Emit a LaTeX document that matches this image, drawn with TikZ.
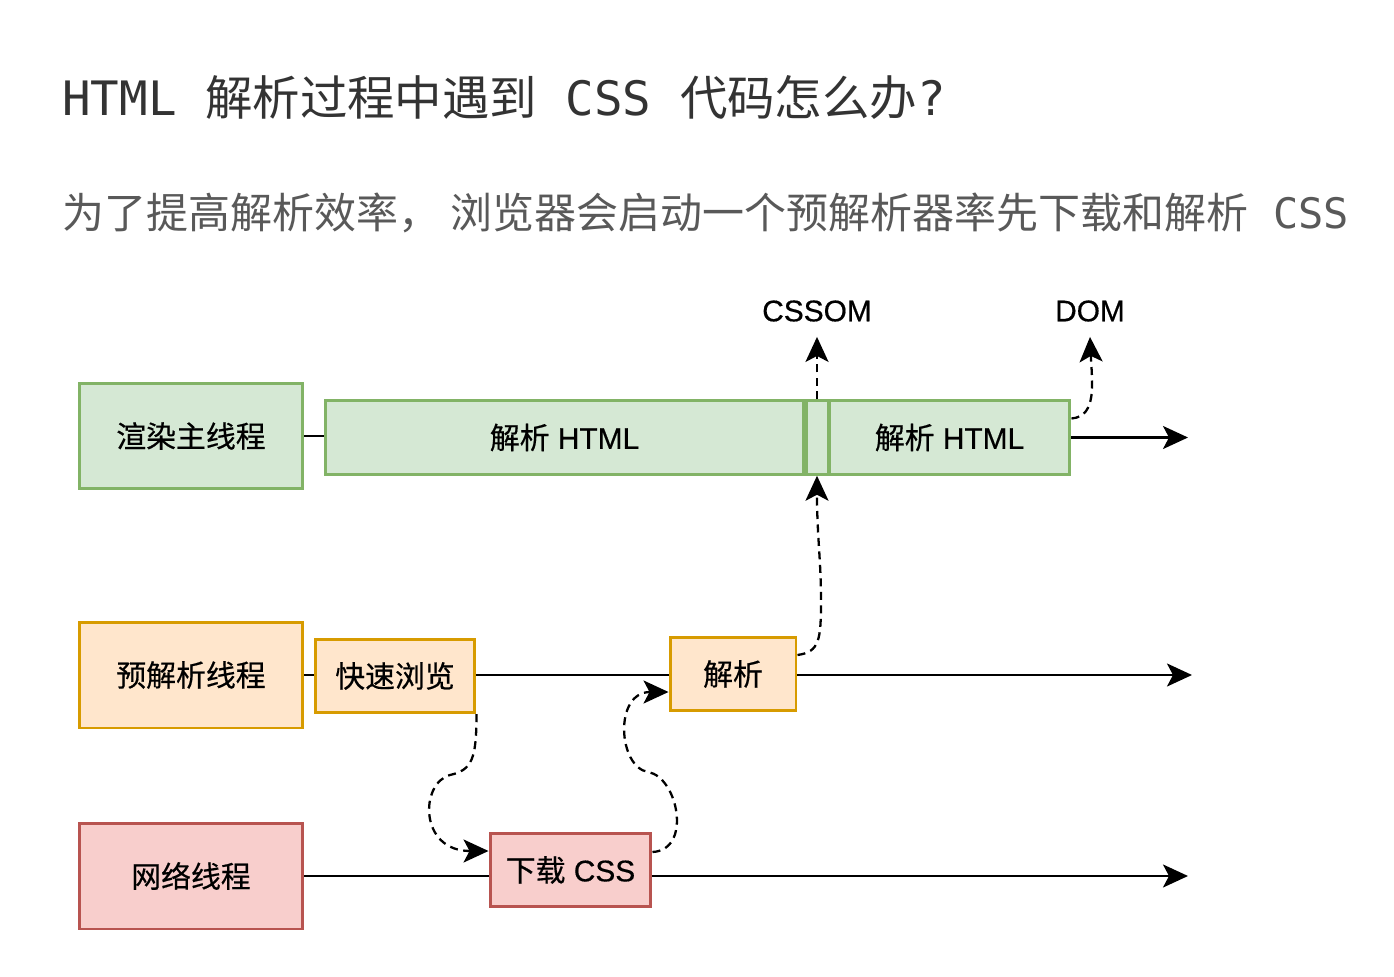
\documentclass[tikz,border=0pt]{standalone}
\usepackage{fontspec}
\setmainfont{Liberation Sans}[FakeBold=0.5]
\setmonofont{DejaVu Sans Mono}
\newfontfamily\cjk{Noto Sans CJK SC}[FakeBold=0.5]
\newfontfamily\headcjk{Noto Sans CJK SC}
\usetikzlibrary{arrows.meta,calc}
\definecolor{greenfill}{HTML}{D5E8D4}
\definecolor{greenline}{HTML}{82B366}
\definecolor{orangefill}{HTML}{FFE6CC}
\definecolor{orangeline}{HTML}{D79B00}
\definecolor{redfill}{HTML}{F8CECC}
\definecolor{redline}{HTML}{B85450}

\begin{document}
\begin{tikzpicture}[
    x=0.02cm, y=-0.02cm,
    >={Stealth[length=0.5cm,width=0.46cm,inset=0.12cm]},
    box/.style={
        draw,
        rectangle,
        line width=1.7pt,
        minimum height=1.47cm,
        align=center,
        font=\fontsize{17}{20}\selectfont
    },
    thread/.style={box, minimum width=4.48cm, minimum height=2.12cm},
    render/.style={fill=greenfill, draw=greenline},
    preparse/.style={fill=orangefill, draw=orangeline},
    network/.style={fill=redfill, draw=redline},
    lbl/.style={font=\fontsize{17}{20}\selectfont, inner xsep=0pt, inner ysep=0.3cm},
    flow/.style={line width=1.3pt},
    dep/.style={->, line width=1.3pt, dash pattern=on 0.16cm off 0.11cm}
]

\fill[white] (0,0) rectangle (1394,977);
\useasboundingbox (0,0) rectangle (1394,977);

\node[anchor=west, inner sep=0pt, text=black!80, font=\fontsize{27}{30}\selectfont\ttfamily] (title) at (62,97)
    {HTML {\headcjk 解析过程中遇到} CSS {\headcjk 代码怎么办}?};
\node[anchor=west, inner sep=0pt, text=black!65, font=\fontsize{23.9}{28}\selectfont\ttfamily] (subtitle) at (62,213)
    {{\headcjk 为了提高解析效率，}\hspace{0.2cm}{\headcjk 浏览器会启动一个预解析器率先下载和解析} CSS};

\node[thread, render] (main) at (191,436) {\cjk 渲染主线程};
\node[box, render, minimum width=9.58cm] (html1) at (564.5,437.5) {{\cjk 解析} HTML};
\node[box, render, minimum width=0.44cm] (gap) at (817,437.5) {};
\node[box, render, minimum width=4.82cm] (html2) at (949.5,437.5) {{\cjk 解析} HTML};
\coordinate (mainend) at (1188,437.5);

\node[lbl] (cssom) at (817,311) {CSSOM};
\node[lbl] (dom) at (1090,311) {DOM};

\node[thread, preparse] (pre) at (191,675) {\cjk 预解析线程};
\node[box, preparse, minimum width=3.2cm] (scan) at (395,676) {\cjk 快速浏览};
\node[box, preparse, minimum width=2.52cm] (parse) at (733,674) {\cjk 解析};
\coordinate (preend) at (1192,675);

\node[thread, network] (net) at (191,876) {\cjk 网络线程};
\node[box, network, minimum width=3.22cm] (dl) at (570.5,870) {{\cjk 下载} CSS};
\coordinate (netend) at (1188,876);

\draw[flow] (main.east) -- (main.east -| html1.west);
\draw[flow,->] (html2.east) -- (mainend);
\draw[flow] (pre.east) -- (pre.east -| scan.west);
\draw[flow] (scan.east |- preend) -- (parse.west |- preend);
\draw[flow,->] (parse.east |- preend) -- (preend);
\draw[flow] (net.east) -- (net.east -| dl.west);
\draw[flow,->] (dl.east |- netend) -- (netend);

\draw[dep] (gap.north) -- (cssom.south);
\draw[dep] ($(html2.east)+(0,-19)$) .. controls +(26,-2) and +(2,45) .. (dom.south);
\draw[dep] (scan.south east) .. controls +(0,45) and +(22,-5) .. (450,775)
    .. controls +(-30,8) and +(-70,0) .. ($(dl.west)+(0,-19)$);
\draw[dep] ($(dl.east)+(0,-18)$) .. controls +(40,-2) and +(30,5) .. (648,772)
    .. controls +(-30,-5) and +(-55,0) .. ($(parse.west)+(0,18)$);
\draw[dep] ($(parse.east)+(0,-19)$) .. controls +(22,-3) and +(0,40) .. (821,600)
    .. controls +(0,-40) and +(0,60) .. (gap.south);

\end{tikzpicture}
\end{document}
